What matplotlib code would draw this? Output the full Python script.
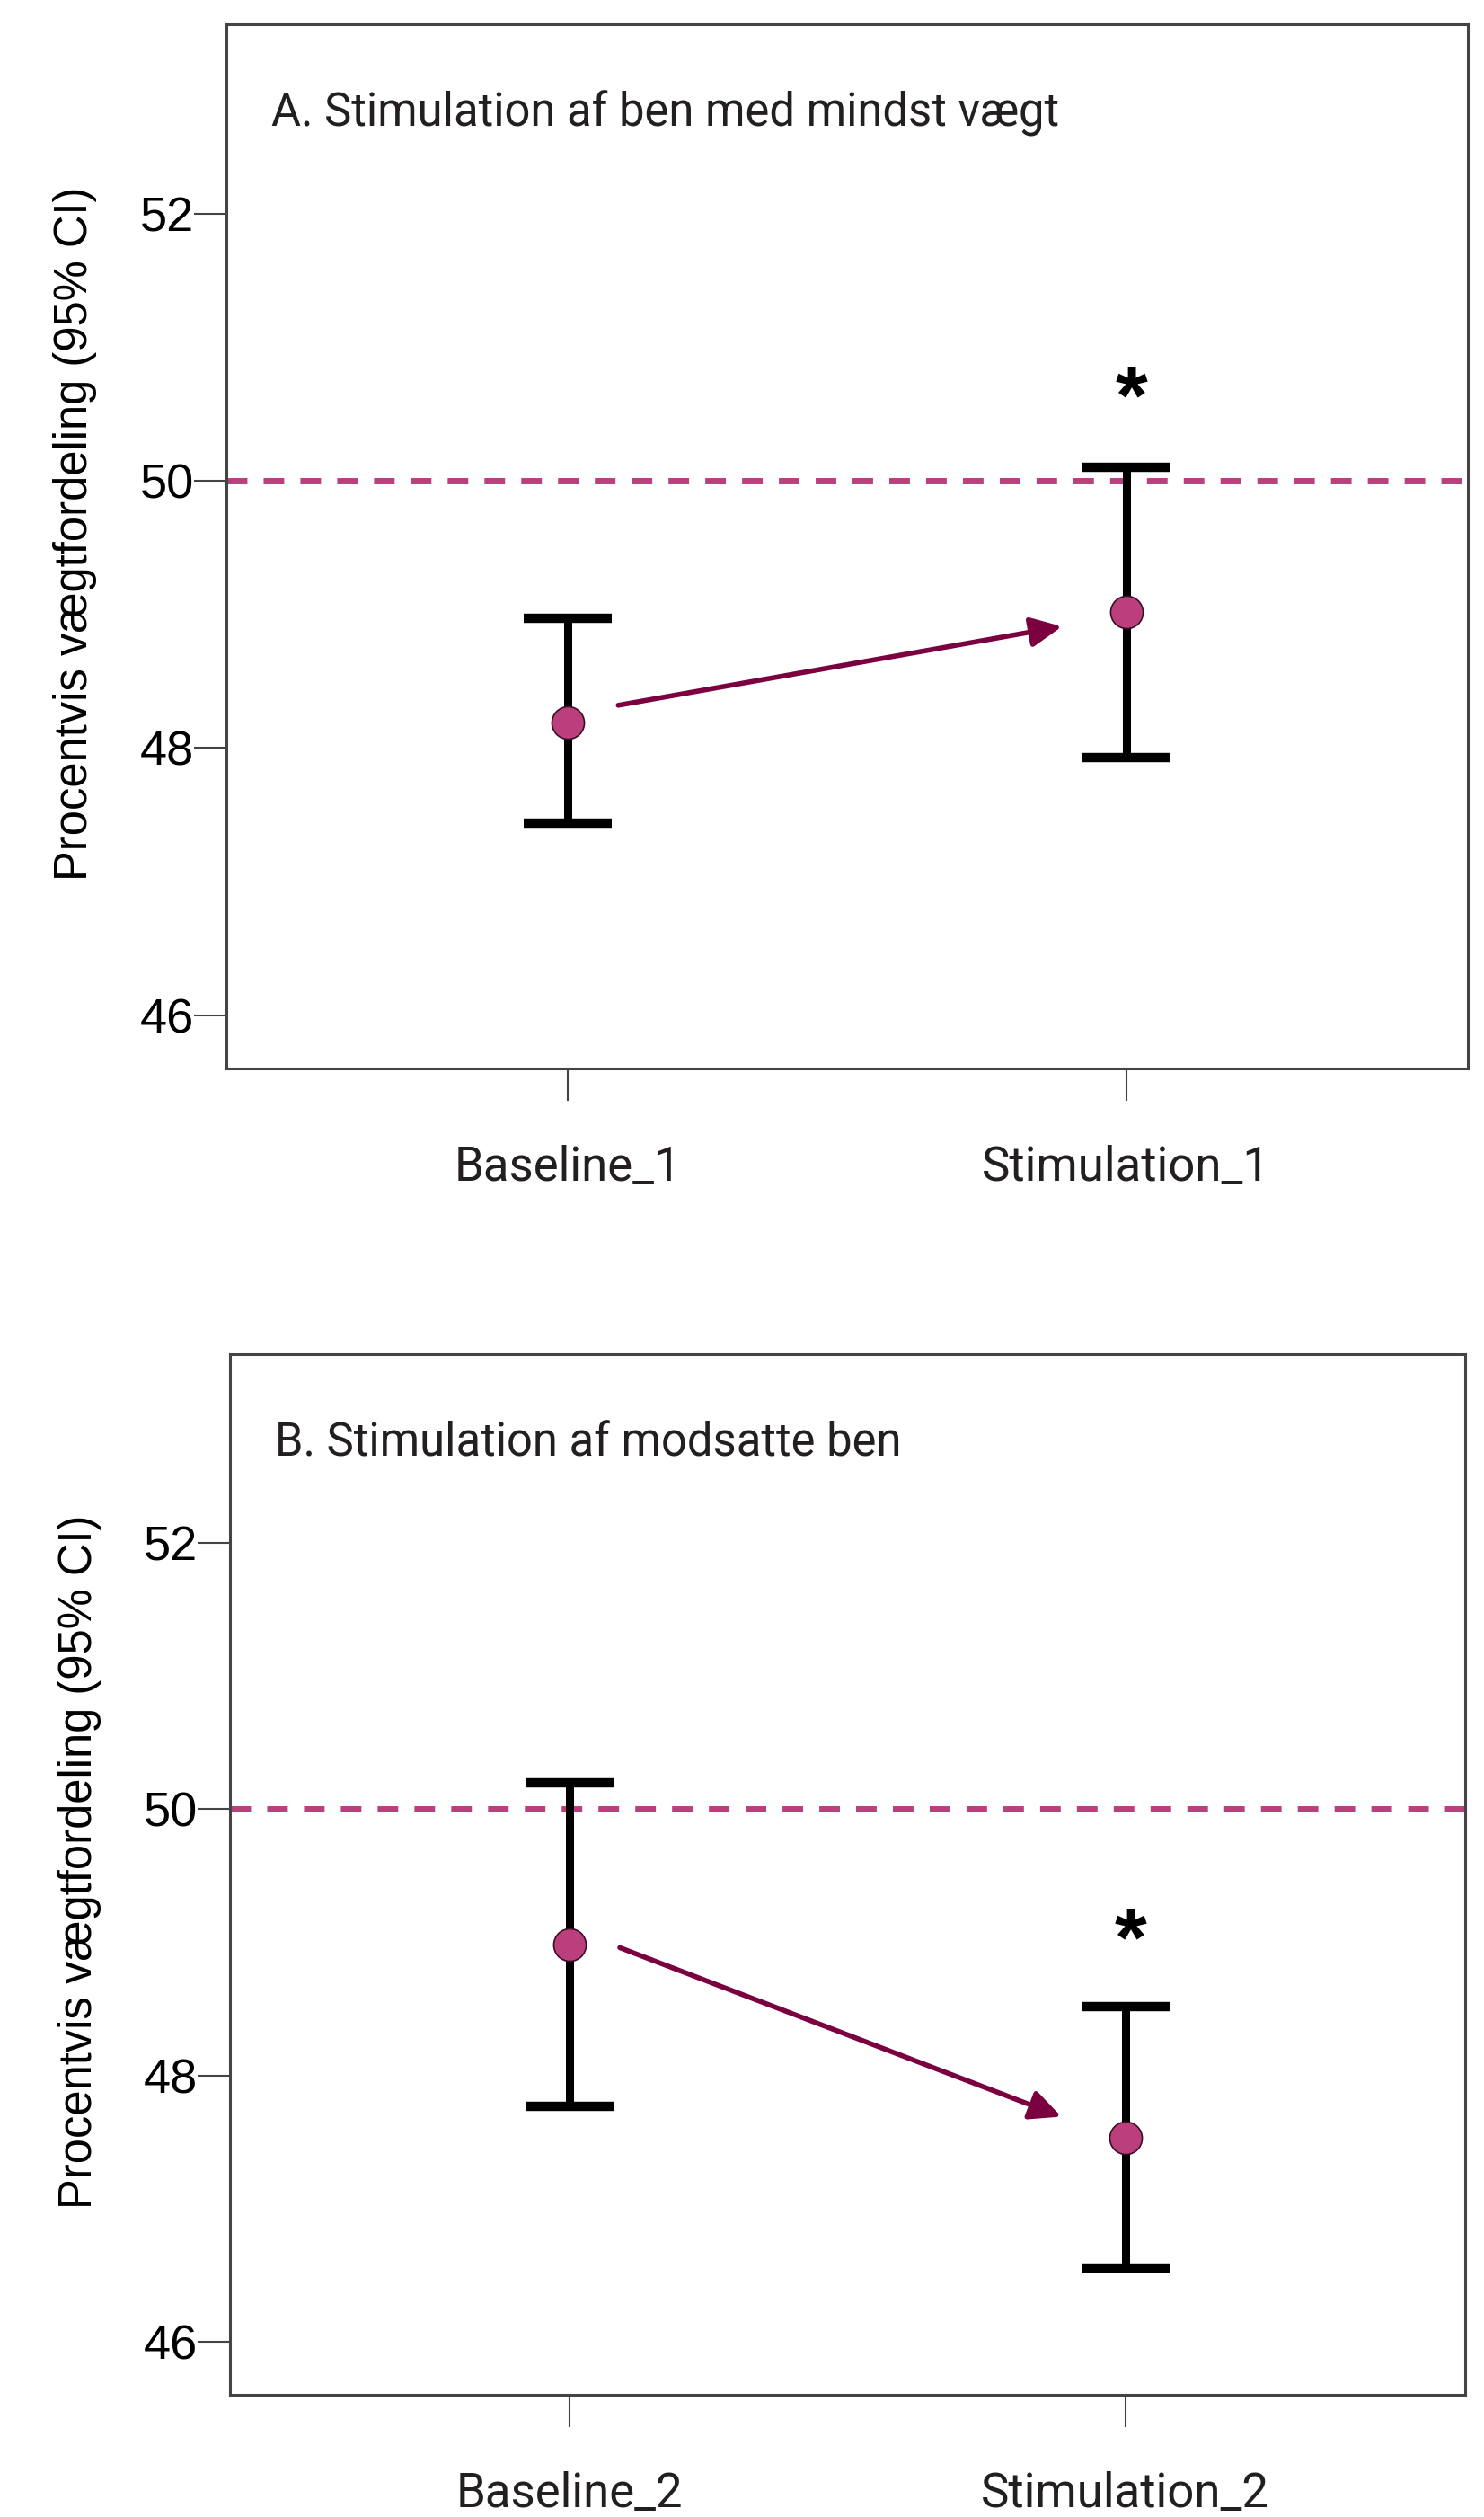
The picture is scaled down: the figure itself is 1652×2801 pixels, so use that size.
import matplotlib
matplotlib.use("Agg")
import matplotlib.pyplot as plt
import numpy as np

# panel data
titles = ["A. Stimulation af ben med mindst vægt", "B. Stimulation af modsatte ben"]
labels_a = ["Baseline_1", "Stimulation_1"]
labels_b = ["Baseline_2", "Stimulation_2"]
mean_a = [48.19, 49.02]
low_a = [47.44, 47.93]
high_a = [48.97, 50.10]
mean_b = [48.98, 47.53]
low_b = [47.77, 46.55]
high_b = [50.20, 48.52]
star_a = 50.67   # asterisk over Stimulation_1
star_b = 49.07   # asterisk over Stimulation_2
arrow_a = [(0.09, 48.32), (0.885, 48.91)]
arrow_b = [(0.09, 48.96), (0.885, 47.69)]
yticks = [46, 48, 50, 52]
ref_line = 50

pink = "#BC3F7D"
maroon = "#7A0040"
din = ["Roboto", "DejaVu Sans"]
helv = ["Liberation Sans", "DejaVu Sans"]

fig = plt.figure(figsize=(16.52, 28.01), dpi=100)
ax1 = fig.add_axes([252/1652, 1-1189/2801, (1634-252)/1652, (1189-27)/2801])
ax2 = fig.add_axes([256/1652, 1-2665/2801, (1631-256)/1652, (2665-1507)/2801])

panels = [
    (ax1, titles[0], labels_a, mean_a, low_a, high_a, star_a, arrow_a),
    (ax2, titles[1], labels_b, mean_b, low_b, high_b, star_b, arrow_b),
]

for ax, title, labels, m, lo, hi, star, arr in panels:
    m = np.array(m); lo = np.array(lo); hi = np.array(hi)
    x = np.arange(len(m))
    ax.axhline(ref_line, color=pink, lw=5, dashes=(3.3, 2.6), zorder=1)
    ax.errorbar(x, m, yerr=[m - lo, hi - m], fmt="none", ecolor="black",
                elinewidth=6.5, capsize=35, capthick=7.5, zorder=2)
    ax.plot(x, m, "o", ms=26, mfc=pink, mec="#3a0f25", mew=1.2, zorder=3, ls="none")
    ax.annotate("", xy=arr[1], xytext=arr[0],
                arrowprops=dict(arrowstyle="-|>,head_length=1.05,head_width=0.5",
                                mutation_scale=20, color=maroon, lw=4,
                                shrinkA=0, shrinkB=0), zorder=4)
    # glyph sits high in its box, so nudge down a bit
    ax.text(1.01, star - 0.08, "*", ha="center", va="center", fontsize=66,
            fontweight="bold", family=helv)
    ax.text(0.036, 0.902, title, transform=ax.transAxes, ha="left",
            va="baseline", fontsize=36.5, family=din, color="#231f20")

    ax.set_xlim(-0.612, 1.612)
    ax.set_ylim(45.6, 53.42)
    ax.set_xticks(x)
    ax.set_xticklabels(labels, family=din, fontsize=38, color="#231f20")
    ax.set_yticks(yticks)
    ax.set_yticklabels([str(t) for t in yticks], family=helv, fontsize=39)
    ax.tick_params(axis="y", direction="out", length=26, width=1.5,
                   color="#444444", pad=0)
    ax.tick_params(axis="x", direction="out", length=26, width=1.5,
                   color="#444444", pad=35)
    for s in ax.spines.values():
        s.set_color("#444444")
        s.set_linewidth(2.2)
    ax.set_ylabel("Procentvis vægtfordeling (95% CI)", family=helv, fontsize=36.5)
    ax.yaxis.set_label_coords(-0.104, 0.512)

fig.savefig("out.png", dpi=100)
